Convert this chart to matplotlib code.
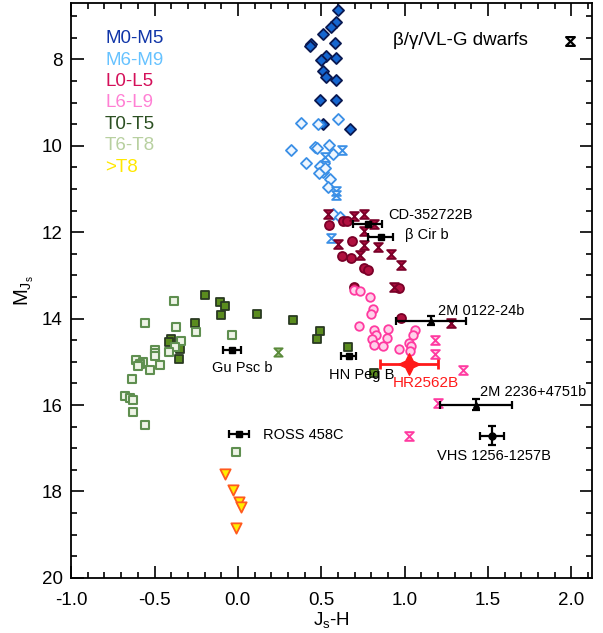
import matplotlib
matplotlib.use("Agg")
import matplotlib.pyplot as plt
from matplotlib.path import Path
from matplotlib.ticker import MultipleLocator
import numpy as np

plt.rcParams['font.family'] = ['Liberation Sans', 'DejaVu Sans']
plt.rcParams['mathtext.fontset'] = 'custom'
plt.rcParams['mathtext.rm'] = 'Liberation Sans'
plt.rcParams['mathtext.it'] = 'Liberation Sans'

# ---------------- data ----------------
m05_x = [0.60, 0.59, 0.56, 0.51, 0.58, 0.44, 0.43, 0.53, 0.50, 0.59, 0.51, 0.53, 0.59, 0.49, 0.59, 0.51, 0.67]
m05_y = [6.86, 7.13, 7.25, 7.42, 7.62, 7.64, 7.70, 7.93, 8.02, 7.97, 8.28, 8.40, 8.47, 8.94, 8.95, 9.50, 9.62]

m69_x = [0.378, 0.478, 0.60, 0.32, 0.464, 0.474, 0.544, 0.57, 0.41, 0.514, 0.494, 0.51, 0.485, 0.525, 0.554, 0.538, 0.57, 0.61]
m69_y = [9.47, 9.50, 9.39, 10.10, 10.02, 10.05, 9.98, 10.18, 10.39, 10.39, 10.47, 10.60, 10.64, 10.52, 10.78, 10.95, 11.57, 11.65]
m69y_x = [0.624, 0.524, 0.59, 0.59, 0.56]
m69y_y = [10.10, 10.25, 11.05, 11.13, 12.13]

l05_x = [0.544, 0.633, 0.654, 0.684, 0.624, 0.678, 0.758, 0.778, 0.694, 0.964, 0.978]
l05_y = [11.84, 11.73, 11.73, 12.21, 12.56, 12.60, 12.83, 12.87, 13.26, 13.30, 13.98]
l05y_x = [0.538, 0.694, 0.758, 0.818, 0.758, 0.598, 0.758, 0.843, 0.734, 0.918, 0.978, 0.938, 1.278]
l05y_y = [11.57, 11.63, 11.57, 11.81, 11.98, 12.27, 12.29, 12.35, 12.53, 12.50, 12.77, 13.26, 14.09]

l69_x = [0.694, 0.73, 0.79, 0.81, 0.798, 0.724, 0.818, 0.83, 0.804, 0.814, 0.90, 0.894, 0.868, 1.064, 1.048, 0.964, 1.024, 1.038, 1.034]
l69_y = [13.33, 13.35, 13.49, 13.77, 13.89, 14.16, 14.26, 14.38, 14.47, 14.61, 14.23, 14.44, 14.63, 14.26, 14.37, 14.71, 14.57, 14.63, 14.75]
l69y_x = [1.18, 1.18, 1.35, 1.203, 1.024]
l69y_y = [14.50, 14.81, 15.19, 15.95, 16.72]

t05_x = [-0.196, -0.106, -0.076, -0.102, -0.26, -0.40, -0.416, -0.346, -0.356, 0.114, 0.33, 0.494, 0.474, 0.66, 0.818]
t05_y = [13.45, 13.62, 13.70, 13.91, 14.09, 14.46, 14.55, 14.71, 14.94, 13.90, 14.03, 14.29, 14.48, 14.65, 15.25]
t05y_x = [0.238]
t05y_y = [14.78]

t68_x = [-0.386, -0.556, -0.37, -0.25, -0.342, -0.376, -0.416, -0.50, -0.50, -0.50, -0.612, -0.57, -0.585,
         -0.60, -0.526, -0.466, -0.636, -0.676, -0.646, -0.63, -0.63, -0.556, -0.036, -0.01]
t68_y = [13.60, 14.11, 14.19, 14.30, 14.52, 14.65, 14.78, 14.72, 14.80, 14.86, 14.95, 15.00, 15.06,
         15.10, 15.19, 15.08, 15.40, 15.79, 15.84, 15.89, 16.15, 16.47, 14.38, 17.09]

gt8_x = [-0.076, -0.032, 0.008, 0.018, -0.012]
gt8_y = [17.60, 17.96, 18.24, 18.37, 18.84]

comp_names = ['CD-352722B', 'β Cir b', '2M 0122-24b', 'HN Peg B', 'Gu Psc b', 'ROSS 458C', '2M 2236+4751b', 'VHS 1256-1257B']
comp_x = [0.778, 0.858, 1.158, 0.664, -0.036, 0.008, 1.43, 1.524]
comp_y = [11.82, 12.12, 14.05, 14.86, 14.72, 16.68, 15.99, 16.71]
comp_xerr = [0.085, 0.075, 0.21, 0.045, 0.053, 0.06, 0.215, 0.072]
comp_yerr = [0.0, 0.0, 0.10, 0.0, 0.0, 0.0, 0.12, 0.22]

hr_x = [1.025]
hr_y = [15.05]
hr_xerr = [0.175]

legend_labels = ['M0-M5', 'M6-M9', 'L0-L5', 'L6-L9', 'T0-T5', 'T6-T8', '>T8']

# ---------------- styling ----------------
hourglass = Path([(-1, 1), (1, 1), (-1, -1), (1, -1), (-1, 1)],
                 [Path.MOVETO, Path.LINETO, Path.LINETO, Path.LINETO, Path.CLOSEPOLY])
star = Path([(0, 1), (0.35, 0.3), (1, 0), (0.35, -0.3), (0, -1), (-0.35, -0.3), (-1, 0), (-0.35, 0.3), (0, 1)],
            [Path.MOVETO] + [Path.LINETO] * 7 + [Path.CLOSEPOLY])

fig = plt.figure(figsize=(6.03, 6.33), dpi=100)
ax = fig.add_axes([0.118, 0.087, 0.864, 0.908])

lw = 1.3
# M0-M5
ax.scatter(m05_x, m05_y, marker='D', s=32, facecolor='#1566d0', edgecolor='#0a1850', linewidth=lw, zorder=3)
# M6-M9
ax.scatter(m69_x, m69_y, marker='D', s=32, facecolor='#eef6ff', edgecolor='#3a8fe6', linewidth=lw, zorder=3)
ax.scatter(m69y_x, m69y_y, marker=hourglass, s=40, facecolor='#d8ecff', edgecolor='#3a8fe6', linewidth=lw, zorder=3)
# L0-L5
ax.scatter(l05_x, l05_y, marker='o', s=42, facecolor='#b0103f', edgecolor='#7a0028', linewidth=lw, zorder=3)
ax.scatter(l05y_x, l05y_y, marker=hourglass, s=40, facecolor='#a80d3c', edgecolor='#7a0028', linewidth=lw, zorder=3)
# L6-L9
ax.scatter(l69_x, l69_y, marker='o', s=38, facecolor='#ffd0ea', edgecolor='#ff3aa0', linewidth=lw, zorder=3)
ax.scatter(l69y_x, l69y_y, marker=hourglass, s=40, facecolor='#ffc8e6', edgecolor='#ff3aa0', linewidth=lw, zorder=3)
# T0-T5
ax.scatter(t05_x, t05_y, marker='s', s=38, facecolor='#5a8c1e', edgecolor='#2a3a22', linewidth=lw, zorder=3)
ax.scatter(t05y_x, t05y_y, marker=hourglass, s=36, facecolor='#9ab880', edgecolor='#5a8a3a', linewidth=lw, zorder=3)
# T6-T8
ax.scatter(t68_x, t68_y, marker='s', s=38, facecolor='#eef4e6', edgecolor='#5f8f50', linewidth=lw + 0.2, zorder=3)
# >T8
ax.scatter(gt8_x, gt8_y, marker='v', s=55, facecolor='#ffee00', edgecolor='#ff5a1e', linewidth=lw, zorder=3)

# companions with error bars
comp_markers = ['s', 's', '^', 's', 's', 's', '^', 'o']
for name, x, y, xe, ye, mk in zip(comp_names, comp_x, comp_y, comp_xerr, comp_yerr, comp_markers):
    ax.errorbar([x], [y], xerr=[xe], yerr=[ye] if ye > 0 else None, fmt=mk, color='black',
                ms=5, capsize=3, elinewidth=1.6, capthick=1.6, zorder=5)

ax.errorbar(hr_x, hr_y, xerr=hr_xerr, fmt='none', ecolor='#ff1a1a', capsize=3.5,
            elinewidth=2.0, capthick=2.0, zorder=6)
ax.scatter(hr_x, hr_y, marker=star, s=240, facecolor='#ff1a1a', edgecolor='#ff1a1a', zorder=7)

# companion labels
lab_fs = 10.5
ax.text(0.90, 11.60, 'CD-352722B', fontsize=lab_fs, ha='left', va='center')
ax.text(1.00, 12.07, 'β Cir b', fontsize=lab_fs, ha='left', va='center')
ax.text(1.20, 13.83, '2M 0122-24b', fontsize=lab_fs, ha='left', va='center')
ax.text(0.745, 15.30, 'HN Peg B', fontsize=lab_fs, ha='center', va='center')
ax.text(0.026, 15.15, 'Gu Psc b', fontsize=lab_fs, ha='center', va='center')
ax.text(0.15, 16.70, 'ROSS 458C', fontsize=lab_fs, ha='left', va='center')
ax.text(1.455, 15.69, '2M 2236+4751b', fontsize=lab_fs, ha='left', va='center')
ax.text(1.533, 17.18, 'VHS 1256-1257B', fontsize=lab_fs, ha='center', va='center')
ax.text(1.13, 15.48, 'HR2562B', fontsize=lab_fs + 0.5, ha='center', va='center', color='#ff1a1a')

# legend text
leg_colors = ['#1035a8', '#66c2ff', '#d4105a', '#ff80d4', '#2c5022', '#b8d0a0', '#ffe800']
for i, (lab, c) in enumerate(zip(legend_labels, leg_colors)):
    ax.text(0.065, 0.938 - i * 0.0372, lab, transform=ax.transAxes, fontsize=13.5,
            color=c, ha='left', va='center')

ax.text(0.618, 0.935, 'β/γ/VL-G dwarfs', transform=ax.transAxes, fontsize=13.5,
        ha='left', va='center')
ax.scatter([0.958], [0.934], transform=ax.transAxes, marker=hourglass, s=40,
           facecolor='white', edgecolor='black', linewidth=1.6, zorder=5)

# axes
ax.set_xlim(-1.0, 2.125)
ax.set_ylim(20, 6.7)
ax.xaxis.set_minor_locator(MultipleLocator(0.1))
ax.yaxis.set_minor_locator(MultipleLocator(0.5))
ax.set_xticks([-1.0, -0.5, 0.0, 0.5, 1.0, 1.5, 2.0])
ax.set_xticklabels(['-1.0', '-0.5', '0.0', '0.5', '1.0', '1.5', '2.0'])
ax.set_yticks([8, 10, 12, 14, 16, 18, 20])
ax.tick_params(which='both', direction='in', top=True, right=True, labelsize=13.5, width=1.2)
ax.tick_params(which='major', length=9)
ax.tick_params(axis='x', which='major', pad=10)
ax.tick_params(axis='y', which='major', pad=6)
ax.tick_params(which='minor', length=4.5)
for sp in ax.spines.values():
    sp.set_linewidth(1.3)

ax.set_xlabel(r'J$_\mathrm{s}$-H', fontsize=13.5, labelpad=1)
ax.set_ylabel(r'M$_{\mathrm{J}_\mathrm{s}}$', fontsize=14.5, labelpad=4)

fig.savefig('out.png', dpi=100)
